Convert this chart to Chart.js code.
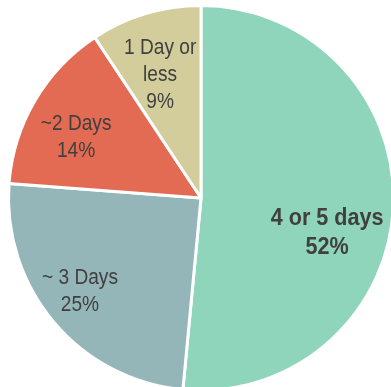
<!DOCTYPE html>
<html>
<head>
<meta charset="utf-8">
<script src="https://cdn.jsdelivr.net/npm/chart.js@4/dist/chart.umd.min.js"></script>
<style>
	html, body { margin: 0; padding: 0; background: #fff; overflow: hidden; }
	#wrap { position: absolute; left: 0; top: 0; width: 402px; height: 396px; }
</style>
</head>
<body>
<div id="wrap"><canvas id="my-chart"></canvas></div>
<script>
// Data
const categories = ["4 or 5 days", "~ 3 Days", "~2 Days", "1 Day or less"];
const values = [51.5, 24.7, 14.5, 9.3];
const percentLabels = ["52%", "25%", "14%", "9%"];
const nameLines = [["4 or 5 days"], ["~ 3 Days"], ["~2 Days"], ["1 Day or", "less"]];

const colors = ["#8fd5bc", "#95b6b9", "#e36b53", "#d3cd9c"];
const bold = [true, false, false, false];
// where to put each label: fraction of radius, shift from the middle angle (degrees)
const labelRadius = [0.68, 0.795, 0.72, 0.675];
const labelShift = [12.8, 2.4, -4.7, -1.6];

const FONT = "'Liberation Sans', Arial, sans-serif";

const sliceLabels = {
	id: "sliceLabels",
	afterDatasetsDraw(chart) {
		const ctx = chart.ctx;
		const arcs = chart.getDatasetMeta(0).data;
		ctx.save();
		ctx.textAlign = "center";
		ctx.textBaseline = "middle";
		ctx.fillStyle = "#404040";
		arcs.forEach((arc, i) => {
			const p = arc.getProps(["x", "y", "startAngle", "endAngle", "outerRadius"], true);
			const mid = (p.startAngle + p.endAngle) / 2 + labelShift[i] * Math.PI / 180;
			const r = p.outerRadius * labelRadius[i];
			const cx = p.x + Math.cos(mid) * r;
			const cy = p.y + Math.sin(mid) * r;
			const lines = nameLines[i].concat([percentLabels[i]]);
			const lh = bold[i] ? 29 : 27;
			const sx = bold[i] ? 0.9 : 0.87;
			ctx.font = (bold[i] ? "bold 24px " : "22px ") + FONT;
			lines.forEach((t, j) => {
				ctx.save();
				ctx.translate(cx, cy + (j - (lines.length - 1) / 2) * lh);
				ctx.scale(sx, 1);
				ctx.fillText(t, 0, 0);
				ctx.restore();
			});
		});
		ctx.restore();
	}
};

const ctx = document.getElementById("my-chart").getContext("2d");

new Chart(ctx, {
	type: "pie",
	data: {
		labels: categories,
		datasets: [{
			data: values,
			backgroundColor: colors,
			borderColor: "#ffffff",
			borderWidth: 3,
			hoverOffset: 0
		}]
	},
	options: {
		responsive: true,
		maintainAspectRatio: false,
		animation: false,
		layout: { padding: 4 },
		plugins: {
			legend: { display: false },
			tooltip: { enabled: false }
		}
	},
	plugins: [sliceLabels]
});
</script>
</body>
</html>
